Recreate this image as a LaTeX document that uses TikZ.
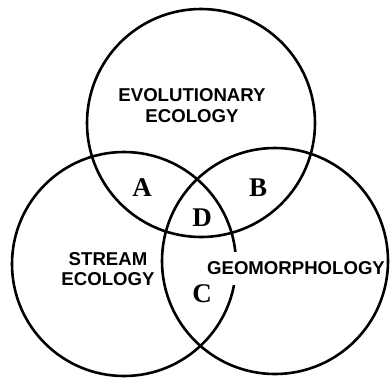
\documentclass[tikz,border=0pt]{standalone}
\usepackage{fontspec}
\newfontfamily\fieldfont{Liberation Sans}
\newfontfamily\zonefont{Liberation Serif}
\usetikzlibrary{positioning}

\tikzset{
  field/.style={font=\fieldfont\bfseries\fontsize{18.6}{20.5}\selectfont,
    align=center, inner sep=0pt},
  zone/.style={font=\zonefont\bfseries\fontsize{27}{27}\selectfont, inner sep=0pt},
}

\begin{document}
\begin{tikzpicture}[x=1pt, y=-1pt, line width=2.6pt]
  % Parameters (page measured downwards from the top edge)
  \def\W{390}          % page width
  \def\H{380}          % page height
  \def\ra{114}         % radius of the top circle
  \def\rb{112}         % radius of the left circle
  \def\rc{113}         % radius of the right circle

  \useasboundingbox (0,0) rectangle (\W,\H);

  % Left circle first, so the label box can cut it
  \draw (124,264) circle[radius=\rb pt];            % stream ecology

  \node[field, fill=white, inner xsep=2pt, inner ysep=9.5pt] (geo) at (296,268.5) {GEOMORPHOLOGY};

  \draw (201,123) circle[radius=\ra pt];            % evolutionary ecology
  \draw (275,261) circle[radius=\rc pt];            % geomorphology

  % Field labels
  \node[field] (evo) at (192,105.5) {EVOLUTIONARY\\ECOLOGY};
  \node[field] (stream) at (108,269) {STREAM\\ECOLOGY};

  % Overlap labels
  \node[zone] (a) at (142,188) {A};
  \node[zone] (b) at (258,188) {B};
  \node[zone] (d) at (202,218) {D};
  \node[zone] (c) at (202,294) {C};

\end{tikzpicture}
\end{document}
